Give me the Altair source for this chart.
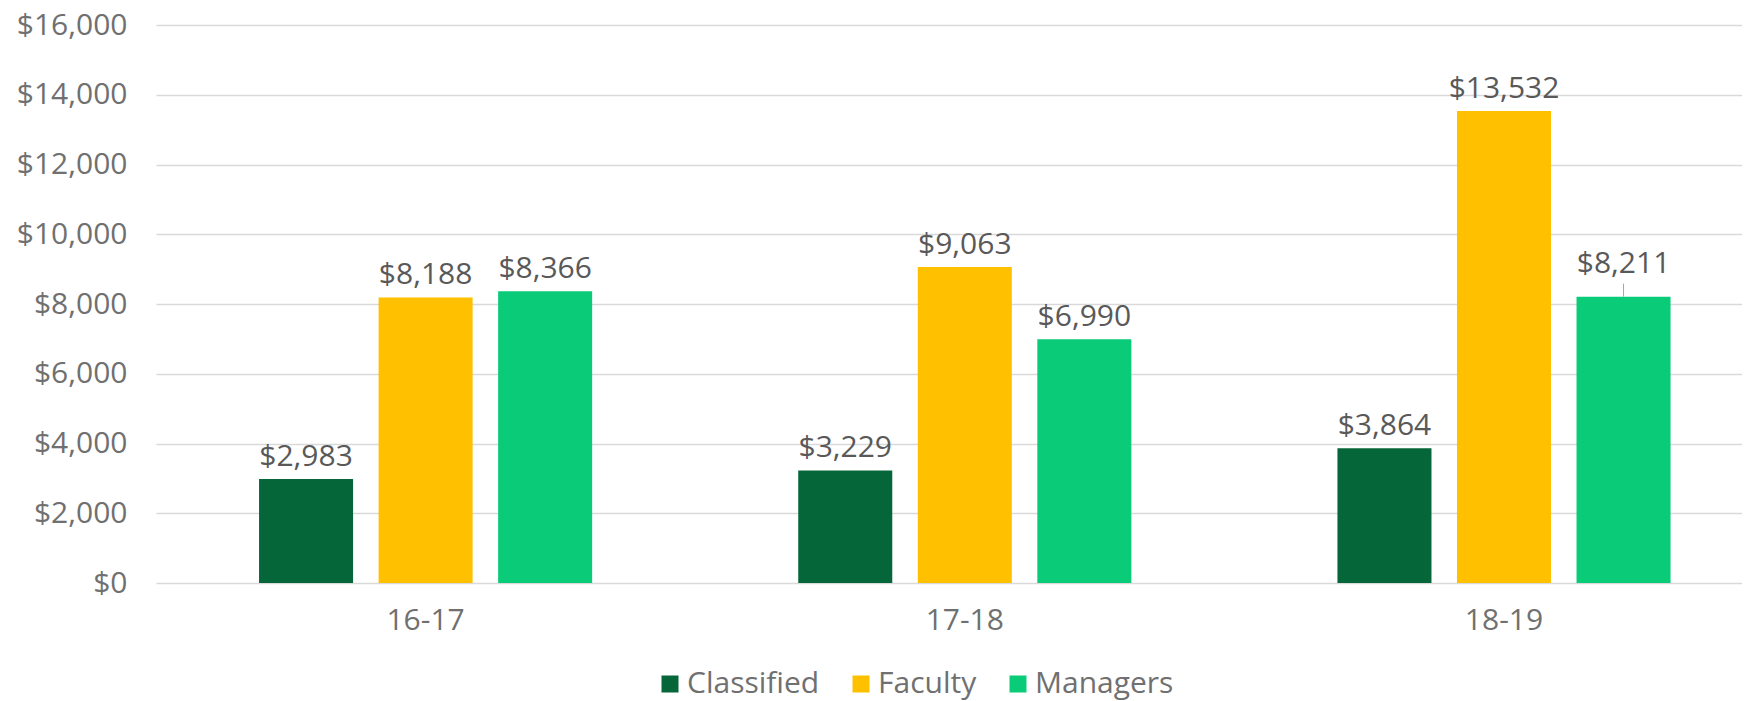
import altair as alt
import pandas as pd

years = ["16-17", "17-18", "18-19"]
groups = ["Classified", "Faculty", "Managers"]
classified = [2983, 3229, 3864]
faculty = [8188, 9063, 13532]
managers = [8366, 6990, 8211]
colors = ["#05663A", "#FFC000", "#0ACC78"]
y_ticks = [0, 2000, 4000, 6000, 8000, 10000, 12000, 14000, 16000]
lifted_label = {"year": "18-19", "group": "Managers"}

rows = []
for i, yr in enumerate(years):
    for g, vals in zip(groups, [classified, faculty, managers]):
        rows.append({"year": yr, "group": g, "value": vals[i]})
df = pd.DataFrame(rows)

FONT = "Open Sans"
AX_COLOR = "#707070"
LBL_COLOR = "#595959"

x = alt.X(
    "year:N", sort=years,
    scale=alt.Scale(range=[0, 1617.6], paddingInner=0, paddingOuter=0),
    axis=alt.Axis(title=None, domain=False, ticks=False, tickSize=0, labelAngle=0,
                  labelFontSize=30, labelFont=FONT, labelColor=AX_COLOR,
                  labelBaseline="alphabetic", labelPadding=46, grid=False),
)
xo = alt.XOffset("group:N", sort=groups,
                 scale=alt.Scale(domain=groups, paddingInner=0.2134, paddingOuter=0.862))
y = alt.Y(
    "value:Q",
    scale=alt.Scale(domain=[0, 16000], nice=False),
    axis=alt.Axis(title=None, values=y_ticks, format="$,.0f", domain=False, ticks=False,
                  tickSize=0, labelPadding=29, labelFontSize=30, labelFont=FONT,
                  labelColor=AX_COLOR, gridColor="#d9d9d9", gridWidth=1.5),
)
color = alt.Color(
    "group:N", sort=groups,
    scale=alt.Scale(domain=groups, range=colors),
    legend=alt.Legend(title=None, orient="none", direction="horizontal",
                      legendX=499, legendY=644, symbolType="square", symbolSize=289,
                      symbolStrokeWidth=0, symbolOpacity=1, labelFontSize=30,
                      labelFont=FONT, labelColor=AX_COLOR, labelOffset=2,
                      columnPadding=26, padding=0),
)

is_lifted = f"datum.year == '{lifted_label['year']}' && datum.group == '{lifted_label['group']}'"

base = alt.Chart(df)
bars = base.mark_bar().encode(x=x, xOffset=xo, y=y, color=color)
labels = base.transform_filter("!(" + is_lifted + ")").mark_text(
    dy=-13, baseline="alphabetic", fontSize=30, font=FONT, color=LBL_COLOR
).encode(x=x, xOffset=xo, y=y, text=alt.Text("value:Q", format="$,.0f"))
lifted = base.transform_filter(is_lifted).mark_text(
    dy=-24, baseline="alphabetic", fontSize=30, font=FONT, color=LBL_COLOR
).encode(x=x, xOffset=xo, y=y, text=alt.Text("value:Q", format="$,.0f"))
leader = base.transform_filter(is_lifted).transform_calculate(
    top="datum.value + 373"
).mark_rule(color="#a6a6a6", strokeWidth=1).encode(
    x=x, xOffset=xo, y=y, y2="top:Q"
)

chart = alt.layer(bars, labels, lifted, leader).properties(
    width=1586, height=558,
    autosize=alt.AutoSizeParams(type="none"),
    padding={"left": 148, "top": 17, "right": 0, "bottom": 118},
    background="white",
).configure_view(stroke=None)

chart.save("out.html", embed_options={"renderer": "svg", "actions": False})
